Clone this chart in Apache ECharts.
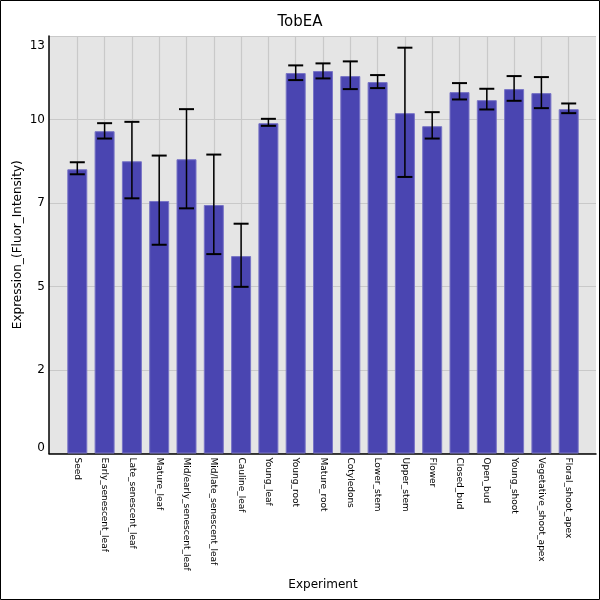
<!DOCTYPE html>
<html>
<head>
<meta charset="utf-8">
<script src="https://cdn.jsdelivr.net/npm/echarts@6/dist/echarts.min.js"></script>
<style>
  html, body { margin: 0; padding: 0; background: #fff; }
  #chart { width: 600px; height: 600px; }
</style>
</head>
<body>
<div id="chart"></div>
<script>
// tissue names, in plot order
var categories = [
    'Seed', 'Early_senescent_leaf', 'Late_senescent_leaf', 'Mature_leaf',
    'Mid/early_senescent_leaf', 'Mid/late_senescent_leaf', 'Cauline_leaf',
    'Young_leaf', 'Young_root', 'Mature_root', 'Cotyledons', 'Lower_stem',
    'Upper_stem', 'Flower', 'Closed_bud', 'Open_bud', 'Young_shoot',
    'Vegetative_shoot_apex', 'Floral_shoot_apex'
];
// bar heights
var expression = [
    8.51, 9.65, 8.75, 7.56, 8.81, 7.44, 5.91, 9.89, 11.39, 11.45,
    11.30, 11.12, 10.19, 9.80, 10.82, 10.58, 10.91, 10.79, 10.31
];
// error bar ends (top / bottom)
var errHigh = [
    8.72, 9.89, 9.93, 8.92, 10.31, 8.95, 6.88, 10.02, 11.62, 11.68,
    11.74, 11.33, 12.15, 10.22, 11.09, 10.92, 11.30, 11.27, 10.48
];
var errLow = [
    8.36, 9.43, 7.64, 6.25, 7.34, 5.97, 4.99, 9.81, 11.18, 11.23,
    10.91, 10.94, 8.28, 9.43, 10.60, 10.30, 10.56, 10.34, 10.19
];
// y tick labels as printed on the axis
var yTickLabels = ['0', '2', '5', '7', '10', '13'];

var FONT = 'DejaVu Sans';
var chart = echarts.init(document.getElementById('chart'));

var errData = [];
for (var i = 0; i < categories.length; i++) {
    errData.push([i, errLow[i], errHigh[i]]);
}

var option = {
    animation: false,
    backgroundColor: '#fff',
    title: {
        text: 'TobEA',
        left: 'center',
        top: 10,
        textStyle: { fontFamily: FONT, fontSize: 15, fontWeight: 'normal', color: '#000' }
    },
    graphic: [{
        type: 'rect',
        shape: { x: 0.5, y: 0.5, width: 599, height: 599 },
        style: { fill: 'none', stroke: '#000', lineWidth: 1 },
        z: 100
    }],
    grid: [
        // background panel with y axis
        { left: 49, right: 4, top: 36, bottom: 146.5, show: true, backgroundColor: '#e5e5e5', borderWidth: 0 },
        // bars, category centres at the ends
        { left: 77.3, right: 31.3, top: 36, bottom: 146.5 }
    ],
    xAxis: [
        {
            gridIndex: 0, type: 'value', min: 0, max: 1,
            axisLine: { show: true, onZero: false, lineStyle: { color: '#000', width: 1.5 } },
            axisTick: { show: false }, axisLabel: { show: false }, splitLine: { show: false }
        },
        {
            gridIndex: 1, type: 'category', data: categories, boundaryGap: false,
            name: 'Experiment', nameLocation: 'middle', nameGap: 125, nameMoveOverlap: false,
            nameTextStyle: { fontFamily: FONT, fontSize: 12, color: '#000' },
            axisLine: { show: false }, axisTick: { show: false },
            axisLabel: {
                rotate: -90, interval: 0, margin: 4,
                fontFamily: FONT, fontSize: 9, color: '#000'
            },
            splitLine: { show: true, lineStyle: { color: '#c9c9c9', width: 1.2 } }
        }
    ],
    yAxis: [
        {
            gridIndex: 0, type: 'value', min: 0, max: 12.5, interval: 2.5,
            name: 'Expression_(Fluor_Intensity)', nameLocation: 'middle', nameGap: 25, nameMoveOverlap: false,
            nameTextStyle: { fontFamily: FONT, fontSize: 12, color: '#000' },
            axisLine: { show: true, lineStyle: { color: '#000', width: 1.5 } },
            axisTick: { show: false },
            axisLabel: {
                margin: 4, fontFamily: FONT, fontSize: 12, color: '#000',
                formatter: function (v) {
                    var k = Math.round(v / 2.5);
                    if (k === 0) return '{lo|' + yTickLabels[k] + '}';
                    if (k === yTickLabels.length - 1) return '{hi|' + yTickLabels[k] + '}';
                    return yTickLabels[k];
                },
                rich: {
                    lo: { fontFamily: FONT, fontSize: 12, color: '#000', padding: [0, 0, 12, 0] },
                    hi: { fontFamily: FONT, fontSize: 12, color: '#000', padding: [19, 0, 0, 0] }
                }
            },
            splitLine: { show: true, lineStyle: { color: '#c9c9c9', width: 1.2 } }
        },
        {
            gridIndex: 1, type: 'value', min: 0, max: 12.5,
            show: false, splitLine: { show: false }
        }
    ],
    series: [
        {
            type: 'bar',
            xAxisIndex: 1, yAxisIndex: 1,
            data: expression,
            barWidth: 20,
            clip: false,
            itemStyle: { color: '#4a45b1', borderColor: '#7874c6', borderWidth: 1 }
        },
        {
            type: 'custom',
            xAxisIndex: 1, yAxisIndex: 1,
            data: errData,
            clip: false,
            z: 10,
            renderItem: function (params, api) {
                var top = api.coord([api.value(0), api.value(2)]);
                var bot = api.coord([api.value(0), api.value(1)]);
                var hw = 7.5;
                var st = { stroke: '#000', lineWidth: 1.5 };
                var cap = { stroke: '#000', lineWidth: 2 };
                return {
                    type: 'group',
                    children: [
                        { type: 'line', shape: { x1: top[0], y1: top[1], x2: bot[0], y2: bot[1] }, style: st },
                        { type: 'line', shape: { x1: top[0] - hw, y1: top[1], x2: top[0] + hw, y2: top[1] }, style: cap },
                        { type: 'line', shape: { x1: bot[0] - hw, y1: bot[1], x2: bot[0] + hw, y2: bot[1] }, style: cap }
                    ]
                };
            }
        }
    ]
};

chart.setOption(option);
</script>
</body>
</html>
